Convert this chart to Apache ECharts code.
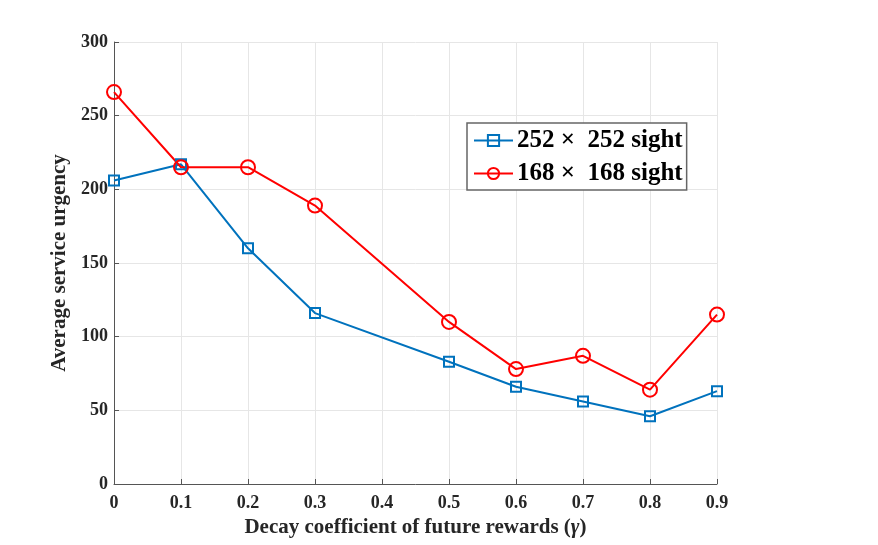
<!DOCTYPE html>
<html><head><meta charset="utf-8">
<script src="https://cdn.jsdelivr.net/npm/echarts@6/dist/echarts.min.js"></script>
<style>html,body{margin:0;padding:0;background:#fff}#c{width:878px;height:545px}</style>
</head><body><div id="c"></div>
<script>
const gammaValues = [0, 0.1, 0.2, 0.3, 0.5, 0.6, 0.7, 0.8, 0.9];
const sight252 = [206, 217, 160, 116, 83, 66, 56, 46, 63];
const sight168 = [266, 215, 215, 189, 110, 78, 87, 64, 115];
const seriesNames = ['252 \u00d7  252 sight', '168 \u00d7  168 sight'];
const xTickLabels = ['0','0.1','0.2','0.3','0.4','0.5','0.6','0.7','0.8','0.9'];
const yTickLabels = ['0','50','100','150','200','250','300'];

const font = '"Liberation Serif","Times New Roman",serif';
const chart = echarts.init(document.getElementById('c'), null, {renderer:'canvas'});
const pair = (xs, ys) => xs.map((x, i) => [x, ys[i]]);
chart.setOption({
  backgroundColor: '#fff',
  animation: false,
  grid: {left: 114, right: 161, top: 42, bottom: 61, containLabel: false},
  legend: {
    left: 467, top: 123,
    orient: 'vertical',
    backgroundColor: '#fff',
    borderColor: '#666', borderWidth: 1.5,
    padding: [4, 4, 3, 6],
    itemGap: 6,
    itemWidth: 39, itemHeight: 14,
    textStyle: {fontFamily: font, fontWeight: 'bold', fontSize: 25, lineHeight: 27, color: '#000', padding: [0, 0, 0, -1]},
    data: seriesNames
  },
  xAxis: {
    type: 'value', min: 0, max: 0.9, interval: 0.1,
    name: 'Decay coefficient of future rewards ({i|\u03b3})',
    nameLocation: 'middle', nameGap: 32,
    nameTextStyle: {fontFamily: font, fontWeight: 'bold', fontSize: 21, color: '#262626',
      rich: {i: {fontFamily: font, fontStyle: 'italic', fontSize: 21, color: '#262626'}}},
    axisLine: {show: true, lineStyle: {color: '#555', width: 1}},
    axisTick: {show: true, inside: true, length: 5, lineStyle: {color: '#555'}},
    axisLabel: {fontFamily: font, fontWeight: 'bold', fontSize: 18, color: '#262626', margin: 10,
      formatter: (v) => xTickLabels[Math.round(v * 10)]},
    splitLine: {show: true, lineStyle: {color: '#e6e6e6', width: 1}}
  },
  yAxis: {
    type: 'value', min: 0, max: 300, interval: 50,
    name: 'Average service urgency',
    nameLocation: 'middle', nameGap: 38, nameRotate: 90,
    nameTextStyle: {fontFamily: font, fontWeight: 'bold', fontSize: 21, color: '#262626'},
    axisLine: {show: true, lineStyle: {color: '#555', width: 1}},
    axisTick: {show: true, inside: true, length: 5, lineStyle: {color: '#555'}},
    axisLabel: {fontFamily: font, fontWeight: 'bold', fontSize: 18, color: '#262626', margin: 6,
      formatter: (v) => yTickLabels[Math.round(v / 50)]},
    splitLine: {show: true, lineStyle: {color: '#e6e6e6', width: 1}}
  },
  series: [
    {
      name: seriesNames[0], type: 'line', data: pair(gammaValues, sight252),
      symbol: 'rect', symbolSize: 10, showAllSymbol: true,
      lineStyle: {color: '#0072bd', width: 2},
      itemStyle: {color: 'rgba(255,255,255,0)', borderColor: '#0072bd', borderWidth: 2}
    },
    {
      name: seriesNames[1], type: 'line', data: pair(gammaValues, sight168),
      symbol: 'circle', symbolSize: 14, showAllSymbol: true,
      lineStyle: {color: '#ff0000', width: 2},
      itemStyle: {color: 'rgba(255,255,255,0)', borderColor: '#ff0000', borderWidth: 2}
    }
  ]
});
</script></body></html>
